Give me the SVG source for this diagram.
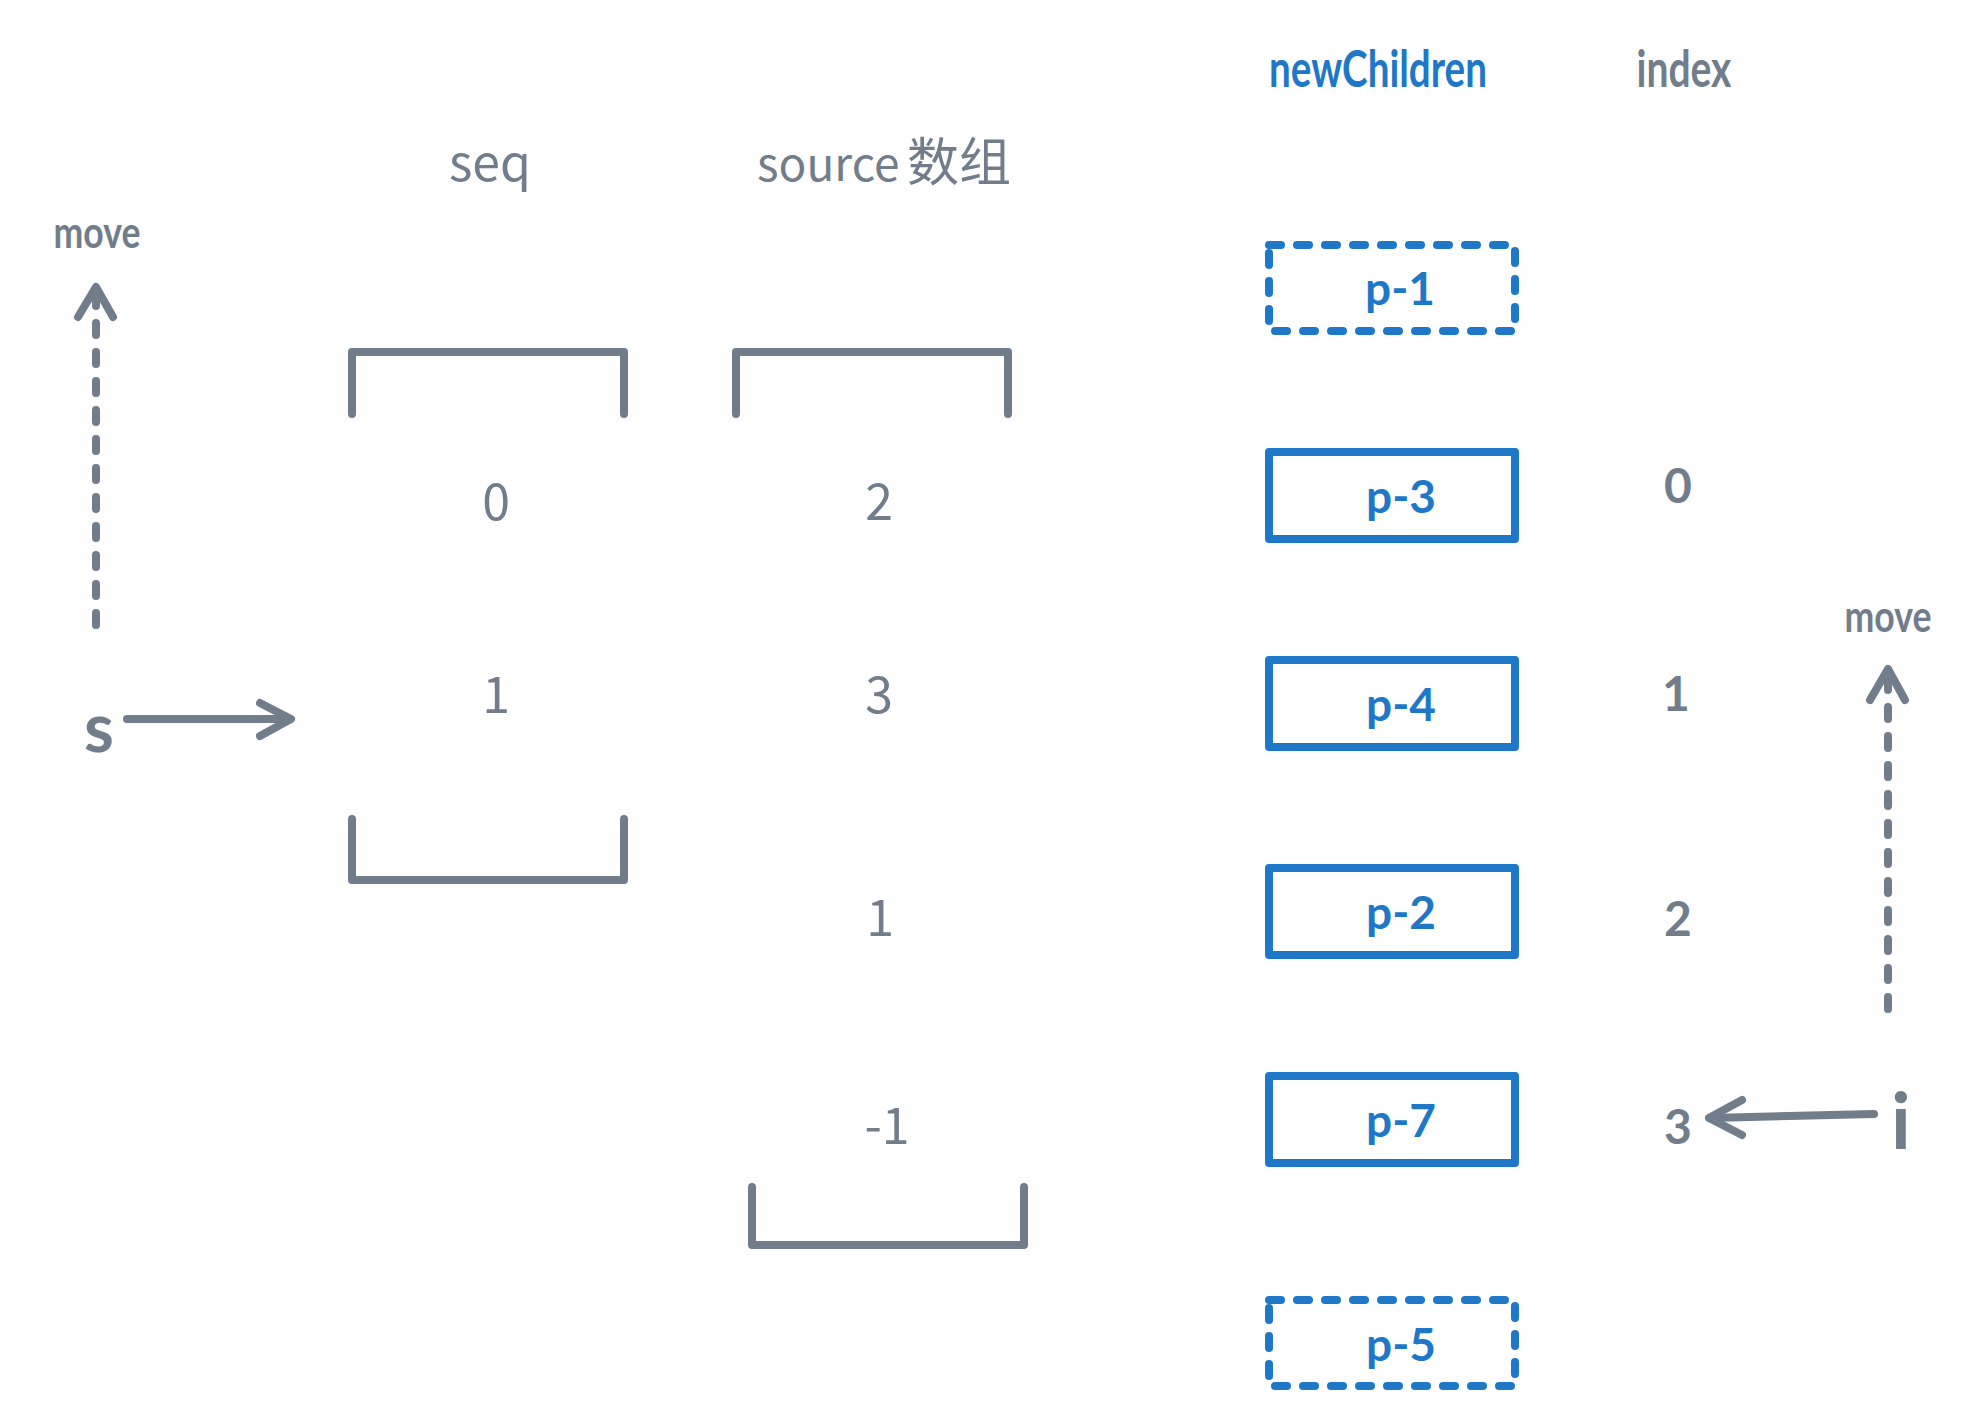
<svg xmlns="http://www.w3.org/2000/svg" width="1966" height="1424" viewBox="0 0 1966 1424">
<style>
.bg{fill:#ffffff}
.cjk{font-family:"Noto Sans CJK SC","Noto Sans",sans-serif;font-size:50px;fill:#717d8a;text-anchor:middle}
.hand{font-family:Lato,"Noto Sans",sans-serif;font-weight:700;text-anchor:middle}
.gray{fill:#717d8a}
.blue{fill:#1f78c7}
.bracket{fill:none;stroke:#717d8a;stroke-width:8;stroke-linecap:round;stroke-linejoin:round}
.box{fill:none;stroke:#1f78c7;stroke-width:8;stroke-linejoin:round}
.dbox{fill:none;stroke:#1f78c7;stroke-width:8;stroke-linecap:round;stroke-linejoin:round;stroke-dasharray:12 16}
.arrow{fill:none;stroke:#717d8a;stroke-width:8;stroke-linecap:round;stroke-linejoin:round}
.darrow{fill:none;stroke:#717d8a;stroke-width:8;stroke-linecap:round;stroke-dasharray:12 17}
.lbl{font-size:46px}
.idx{font-size:48px}
</style>
<rect class="bg" x="0" y="0" width="1966" height="1424"/>

<g id="headers">
  <text class="cjk" x="490" y="181">seq</text>
  <text class="cjk" x="757" y="181" style="text-anchor:start;font-size:46px">source <tspan x="907" style="font-size:52px">数组</tspan></text>
  <text class="hand blue" x="1378" y="87" font-size="52" textLength="218" lengthAdjust="spacingAndGlyphs">newChildren</text>
  <text class="hand gray" x="1684" y="87" font-size="52" textLength="95" lengthAdjust="spacingAndGlyphs">index</text>
</g>

<g id="seq-array">
  <path class="bracket" d="M352,414 V352 H624 V414"/>
  <text class="cjk" x="496" y="520">0</text>
  <text class="cjk" x="496" y="713">1</text>
  <path class="bracket" d="M352,819 V880 H624 V819"/>
</g>

<g id="source-array">
  <path class="bracket" d="M736,414 V352 H1008 V414"/>
  <text class="cjk" x="879" y="520">2</text>
  <text class="cjk" x="879" y="713">3</text>
  <text class="cjk" x="880" y="936">1</text>
  <text class="cjk" x="887" y="1144">-1</text>
  <path class="bracket" d="M752,1187 V1245 H1024 V1187"/>
</g>

<g id="node-p1">
  <path class="dbox" d="M1269,245 H1515 V331 H1269 Z"/>
  <text class="hand blue lbl" x="1400" y="305">p-1</text>
</g>
<g id="node-p3">
  <rect class="box" x="1269" y="452" width="246" height="87"/>
  <text class="hand blue lbl" x="1401" y="513">p-3</text>
</g>
<g id="node-p4">
  <rect class="box" x="1269" y="660" width="246" height="87"/>
  <text class="hand blue lbl" x="1401" y="721">p-4</text>
</g>
<g id="node-p2">
  <rect class="box" x="1269" y="868" width="246" height="87"/>
  <text class="hand blue lbl" x="1401" y="929">p-2</text>
</g>
<g id="node-p7">
  <rect class="box" x="1269" y="1076" width="246" height="87"/>
  <text class="hand blue lbl" x="1401" y="1137">p-7</text>
</g>
<g id="node-p5">
  <path class="dbox" d="M1269,1300 H1515 V1386 H1269 Z"/>
  <text class="hand blue lbl" x="1401" y="1361">p-5</text>
</g>

<g id="index-values">
  <text class="hand gray idx" x="1678" y="503">0</text>
  <text class="hand gray idx" x="1676" y="711">1</text>
  <text class="hand gray idx" x="1678" y="936">2</text>
  <text class="hand gray idx" x="1678" y="1144">3</text>
</g>

<g id="label-move-left">
  <text class="hand gray" x="97" y="248" font-size="44" textLength="87" lengthAdjust="spacingAndGlyphs">move</text>
</g>
<g id="label-s">
  <text class="hand gray" x="99" y="752" font-size="68">s</text>
</g>
<g id="label-move-right">
  <text class="hand gray" x="1888" y="632" font-size="44" textLength="87" lengthAdjust="spacingAndGlyphs">move</text>
</g>
<g id="label-i">
  <text class="hand gray" x="1901" y="1149" font-size="78">i</text>
</g>

<g id="connectors">
  <line class="darrow" x1="96" y1="625" x2="96" y2="294"/>
  <polyline class="arrow" points="78,317 96,287 113,317"/>
  <line class="arrow" x1="127" y1="719" x2="290" y2="719"/>
  <polyline class="arrow" points="260,703 291,719 260,736"/>
  <line class="darrow" x1="1888" y1="1009" x2="1888" y2="676"/>
  <polyline class="arrow" points="1870,700 1888,669 1905,700"/>
  <line class="arrow" x1="1874" y1="1114" x2="1710" y2="1118"/>
  <polyline class="arrow" points="1742,1100 1709,1118 1742,1135"/>
</g>
</svg>
